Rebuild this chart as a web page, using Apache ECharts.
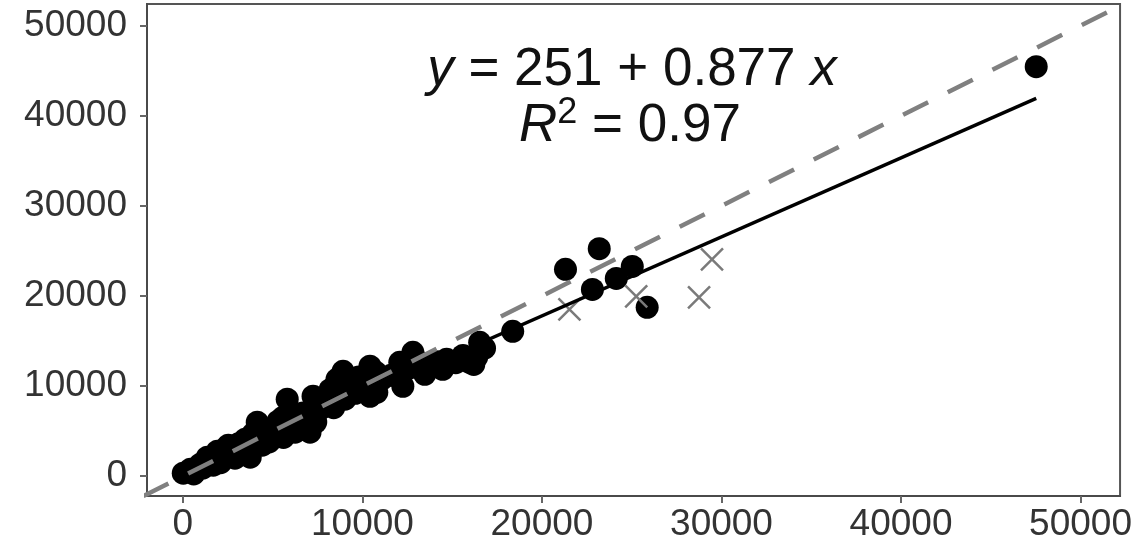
<!DOCTYPE html>
<html>
<head>
<meta charset="utf-8">
<script src="https://cdn.jsdelivr.net/npm/echarts@6/dist/echarts.min.js"></script>
<style>
  html, body { margin: 0; padding: 0; background: #fff; }
  #chart { width: 1135px; height: 543px; }
</style>
</head>
<body>
<div id="chart"></div>
<script>
// tick values shared by both axes
const axisTicks = [0, 10000, 20000, 30000, 40000, 50000];

// filled black points (x, y)
const dotX = [20, 420, 970, 1360, 1690, 1920, 2530, 2750, 3470, 3750, 4140, 4420, 5140, 5580, 5810, 6250,
  7080, 7250, 7640, 8580, 8920, 9030, 10420, 10420, 10750, 12080, 12250, 12810, 13470, 14470, 14690, 15970,
  16360, 16530, 18370, 21310, 22810, 23190, 24140, 25030, 25860, 47530,
  600, 1100, 1500, 2100, 2300, 2900, 3100, 3300, 3900, 4600, 4800, 5300, 5600, 6000, 6600, 6700, 7400,
  7900, 8200, 8400, 9300, 9600, 9800, 10100, 10800, 11100, 11600, 12000, 12600, 13000, 13900, 14200,
  15200, 15600, 16200, 16800];
const dotY = [330, 780, 1330, 2110, 1220, 2770, 3440, 2440, 4100, 2110, 5990, 3440, 5210, 6540, 8540, 4880,
  4880, 8870, 7430, 10750, 11640, 8540, 12200, 8870, 11530, 12640, 9980, 13750, 11310, 11860, 12970, 12640,
  13190, 14860, 16080, 22950, 20730, 25240, 21950, 23280, 18740, 45450,
  250, 900, 1700, 1500, 3000, 2000, 3600, 2800, 4700, 4300, 3800, 6100, 4300, 7200, 5600, 7000, 6000,
  8700, 9600, 7600, 10300, 9200, 11000, 10000, 9300, 10800, 11200, 11000, 12000, 12900, 12300, 12700,
  12600, 13400, 12400, 14200];

// grey cross points (x, y)
const crossX = [21530, 25250, 28750, 29470];
const crossY = [18510, 19960, 19850, 24060];

// fitted line
const fitIntercept = 251;
const fitSlope = 0.877;
const fitR2 = 0.97;

const xRange = [-2000, 52200];
const yRange = [-2200, 52400];

const dots = dotX.map((x, i) => [x, dotY[i]]);
const crosses = crossX.map((x, i) => [x, crossY[i]]);
const fitFrom = Math.min(...dotX);
const fitTo = Math.max(...dotX);
const fitLine = [fitFrom, fitTo].map((x) => [x, fitIntercept + fitSlope * x]);
const oneToOne = [Math.min(xRange[0], yRange[0]), Math.max(xRange[1], yRange[1])].map((v) => [v, v]);

const font = '"Liberation Sans", Arial, sans-serif';

const axisCommon = {
  type: 'value',
  splitLine: { show: false },
  axisLine: { show: true, onZero: false, lineStyle: { color: '#4a4a4a', width: 2 } },
  axisTick: { show: true, customValues: axisTicks, length: 7, lineStyle: { color: '#666', width: 2 } },
};

const chart = echarts.init(document.getElementById('chart'));
chart.setOption({
  animation: false,
  grid: { left: 147, right: 13, top: 4, bottom: 46, show: true, borderColor: '#555', borderWidth: 2 },
  xAxis: Object.assign({}, axisCommon, {
    min: xRange[0], max: xRange[1],
    axisLabel: { customValues: axisTicks, formatter: (v) => String(v), fontSize: 37, color: '#333', fontFamily: font, margin: 10 },
  }),
  yAxis: Object.assign({}, axisCommon, {
    min: yRange[0], max: yRange[1],
    axisLabel: { customValues: axisTicks, formatter: (v) => String(v), fontSize: 37, color: '#333', fontFamily: font, margin: 20 },
  }),
  graphic: [
    {
      type: 'text', x: 632, y: 70, z: 10,
      style: {
        text: '{i|y} = 251 + 0.877 {i|x}',
        font: '53px ' + font, fill: '#111', align: 'center', verticalAlign: 'middle',
        rich: { i: { fontStyle: 'italic', fontSize: 53, fontFamily: font, fill: '#111' } },
      },
    },
    {
      type: 'text', x: 630, y: 126, z: 10,
      style: {
        text: '{i|R}{sup|2} = ' + fitR2.toFixed(2),
        font: '53px ' + font, fill: '#111', align: 'center', verticalAlign: 'middle',
        rich: {
          i: { fontStyle: 'italic', fontSize: 53, fontFamily: font, fill: '#111' },
          sup: { fontSize: 36, fontFamily: font, fill: '#111', padding: [0, 0, 26, 0] },
        },
      },
    },
  ],
  series: [
    {
      type: 'scatter', data: dots, symbol: 'circle', symbolSize: 23, z: 2,
      itemStyle: { color: '#000', opacity: 1 },
    },
    {
      type: 'scatter', data: crosses, symbol: 'path://M0,0L10,10M10,0L0,10', symbolSize: 22, z: 3,
      itemStyle: { color: 'transparent', borderColor: '#7a7a7a', borderWidth: 2.5, opacity: 1 },
    },
    {
      type: 'line', data: fitLine, symbol: 'none', z: 4,
      lineStyle: { color: '#000', width: 3.5 },
    },
    {
      type: 'line', data: oneToOne, symbol: 'none', z: 5, clip: true,
      lineStyle: { color: '#808080', width: 4.5, type: [28, 22] },
    },
  ],
});
</script>
</body>
</html>
